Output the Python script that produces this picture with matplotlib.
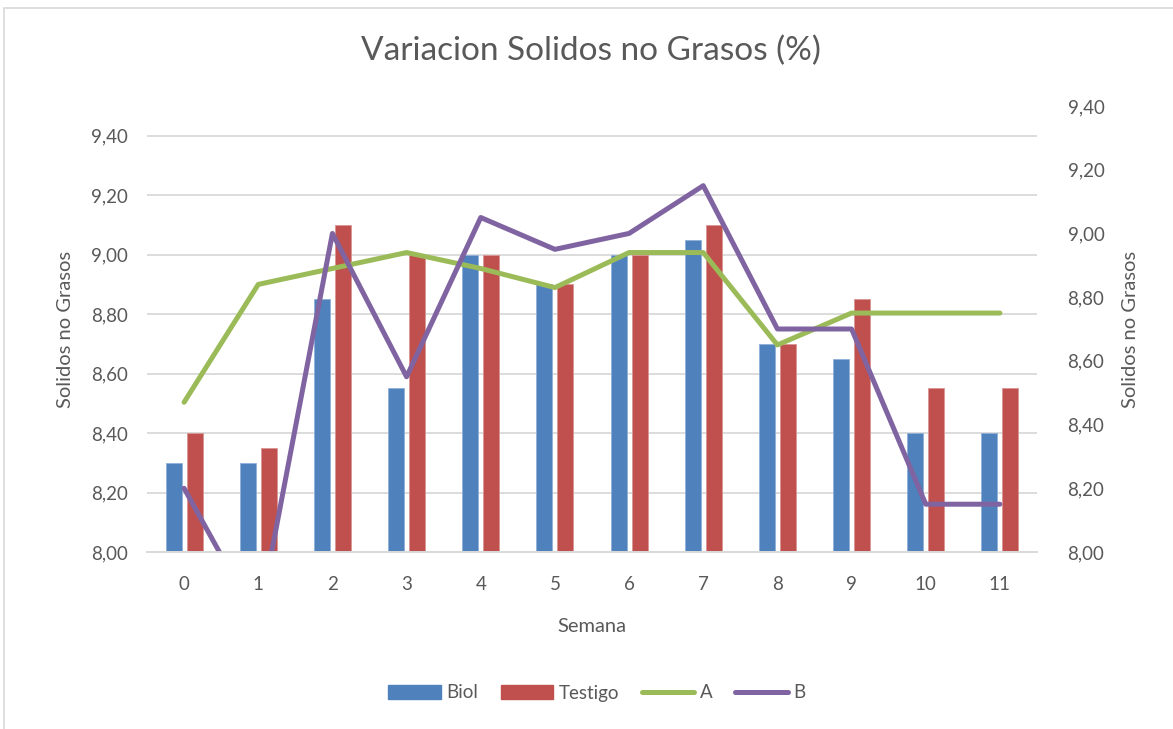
import matplotlib
matplotlib.use("Agg")
import matplotlib.pyplot as plt
from matplotlib.ticker import FuncFormatter
from matplotlib.patches import Rectangle, Patch
from matplotlib.lines import Line2D
import numpy as np

semanas = [0, 1, 2, 3, 4, 5, 6, 7, 8, 9, 10, 11]
biol = [8.30, 8.30, 8.85, 8.55, 9.00, 8.90, 9.00, 9.05, 8.70, 8.65, 8.40, 8.40]
testigo = [8.40, 8.35, 9.10, 9.00, 9.00, 8.90, 9.00, 9.10, 8.70, 8.85, 8.55, 8.55]
serie_a = [8.47, 8.84, 8.89, 8.94, 8.89, 8.83, 8.94, 8.94, 8.65, 8.75, 8.75, 8.75]
serie_b = [8.20, 7.78, 9.00, 8.55, 9.05, 8.95, 9.00, 9.15, 8.70, 8.70, 8.15, 8.15]

c_biol = "#4F81BD"
c_test = "#C0504D"
c_a = "#9BBB59"
c_b = "#8064A2"
gris = "#595959"

plt.rcParams['font.family'] = ['Lato', 'DejaVu Sans']

W, H = 1173, 729
fig = plt.figure(figsize=(W / 100, H / 100), dpi=100)
ax = fig.add_axes([147 / W, 1 - 552 / H, (1037 - 147) / W, (552 - 106) / H])
ax2 = ax.twinx()

# borde del grafico
fig.patches.append(Rectangle((4 / W, -0.01), 1.0, 1 - 8 / H + 0.01, transform=fig.transFigure,
                             fill=False, edgecolor="#D9D9D9", linewidth=1.2))

x = np.arange(len(semanas))
w = 0.216
off = 0.1415
ax.bar(x - off, biol, w, color=c_biol, edgecolor="#8FB0D9", linewidth=0.6, zorder=2)
ax.bar(x + off, testigo, w, color=c_test, edgecolor="#D99593", linewidth=0.6, zorder=2)

ax2.plot(x, serie_a, color=c_a, linewidth=3.6, solid_capstyle="round", solid_joinstyle="round")
ax2.plot(x, serie_b, color=c_b, linewidth=3.6, solid_capstyle="round", solid_joinstyle="round")

fmt = FuncFormatter(lambda v, p: f"{v:.2f}".replace(".", ","))
ax.set_ylim(8.0, 9.5)
ax.set_yticks(np.arange(8.0, 9.41, 0.2))
ax.yaxis.set_major_formatter(fmt)
ax2.set_ylim(8.0, 9.4)
ax2.set_yticks(np.arange(8.0, 9.41, 0.2))
ax2.yaxis.set_major_formatter(fmt)
ax.set_xlim(-0.5, len(semanas) - 0.5)
ax.set_xticks(x)
ax.set_xticklabels([str(s) for s in semanas])

ax.yaxis.grid(True, color="#D9D9D9", linewidth=1.3)
ax.set_axisbelow(True)
for a in (ax, ax2):
    for s in ("top", "left", "right"):
        a.spines[s].set_visible(False)
    a.spines["bottom"].set_color("#D9D9D9")
    a.spines["bottom"].set_linewidth(1.3)
    a.tick_params(length=0, labelsize=13.5, labelcolor=gris)
ax.tick_params(axis="y", pad=14)
ax2.tick_params(axis="y", pad=22)
ax.tick_params(axis="x", pad=17)

ax.set_ylabel("Solidos no Grasos", fontsize=14.5, color=gris, labelpad=12)
ax2.set_ylabel("Solidos no Grasos", fontsize=14.5, color=gris, labelpad=13)
ax.set_xlabel("Semana", fontsize=14.5, color=gris, labelpad=18)

fig.text(0.504, 1 - 51 / H, "Variacion Solidos no Grasos (%)", ha="center", va="center",
         fontsize=24, color=gris)

handles = [Patch(color=c_biol), Patch(color=c_test),
           Line2D([], [], color=c_a, linewidth=3.6, solid_capstyle="round"),
           Line2D([], [], color=c_b, linewidth=3.6, solid_capstyle="round")]
fig.legend(handles, ["Biol", "Testigo", "A", "B"], loc="center", bbox_to_anchor=(0.509, 1 - 693 / H),
           ncol=4, frameon=False, fontsize=13.5, labelcolor=gris, handlelength=2.8,
           handletextpad=0.3, columnspacing=1.2)

fig.savefig("out.png", dpi=100)
